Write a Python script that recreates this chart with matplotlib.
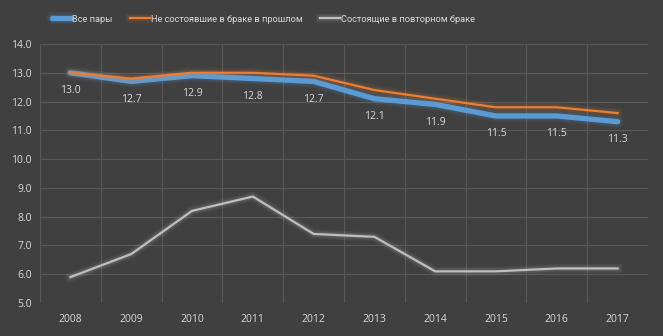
### Import ###

import numpy as np
import matplotlib.pyplot as plt
import matplotlib.patheffects as pe

### Data ###

years = ['2008', '2009', '2010', '2011', '2012', '2013', '2014', '2015', '2016', '2017']
all_pairs = [13.0, 12.7, 12.9, 12.8, 12.7, 12.1, 11.9, 11.5, 11.5, 11.3]
never_married = [13.0, 12.8, 13.0, 13.0, 12.9, 12.4, 12.1, 11.8, 11.8, 11.6]
remarried = [5.9, 6.7, 8.2, 8.7, 7.4, 7.3, 6.1, 6.1, 6.2, 6.2]
y_ticks = [5.0, 6.0, 7.0, 8.0, 9.0, 10.0, 11.0, 12.0, 13.0, 14.0]

labels = ['Все пары', 'Не состоявшие в браке в прошлом', 'Состоящие в повторном браке']

### Style ###

bg = '#404040'
txt = '#d9d9d9'
grid = '#595959'
plt.rcParams['font.family'] = ['Open Sans', 'DejaVu Sans']

fig = plt.figure(figsize=(6.63, 3.36), dpi=100, facecolor=bg)
ax = fig.add_axes([40/663, 1 - 303/336, 608/663, 259/336])
ax.set_facecolor(bg)

x = np.arange(len(years))

def glow(color, w):
    # soft halo like the excel chart
    return [pe.Stroke(linewidth=w + 5, foreground=color, alpha=0.08),
            pe.Stroke(linewidth=w + 2.5, foreground=color, alpha=0.12),
            pe.Normal()]

ax.plot(x, remarried, color='#bfbfbf', lw=1.6, label=labels[2],
        path_effects=glow('#bfbfbf', 1.6), zorder=3)
ax.plot(x, all_pairs, color='#5b9bd5', lw=3.8, label=labels[0],
        path_effects=glow('#5b9bd5', 3.8), zorder=4, solid_capstyle='round')
ax.plot(x, never_married, color='#ed7d31', lw=1.6, label=labels[1],
        path_effects=glow('#ed7d31', 1.6), zorder=5)

# value labels under the blue line
for xi, v in zip(x, all_pairs):
    ax.annotate(f'{v:.1f}', (xi, v), xytext=(0, -9), textcoords='offset points',
                ha='center', va='top', color=txt, fontsize=7.5)

ax.set_xlim(-0.5, len(years) - 0.5)
ax.set_ylim(5, 14)
ax.set_yticks(y_ticks)
ax.set_yticklabels([f'{t:.1f}' for t in y_ticks])
ax.set_xticks(x)
ax.set_xticklabels(years)
ax.set_xticks(np.arange(-0.5, len(years)), minor=True)

ax.grid(axis='y', which='major', color=grid, lw=0.8)
ax.grid(axis='x', which='minor', color=grid, lw=0.8)
ax.set_axisbelow(True)
ax.tick_params(which='both', length=0, colors=txt, labelsize=7.5)
ax.tick_params(axis='x', pad=8)
ax.tick_params(axis='y', pad=6)
for s in ax.spines.values():
    s.set_visible(False)

h, l = ax.get_legend_handles_labels()
order = [1, 2, 0]
leg = fig.legend([h[i] for i in order], [l[i] for i in order], loc='center',
                 bbox_to_anchor=(0.397, 1 - 19/336), ncol=3, frameon=False,
                 prop={'family': ['Roboto', 'DejaVu Sans'], 'size': 6.7},
                 handlelength=2.1, handletextpad=0.1,
                 columnspacing=1.9, labelcolor=txt)

fig.savefig('out.png', dpi=100, facecolor=bg)
